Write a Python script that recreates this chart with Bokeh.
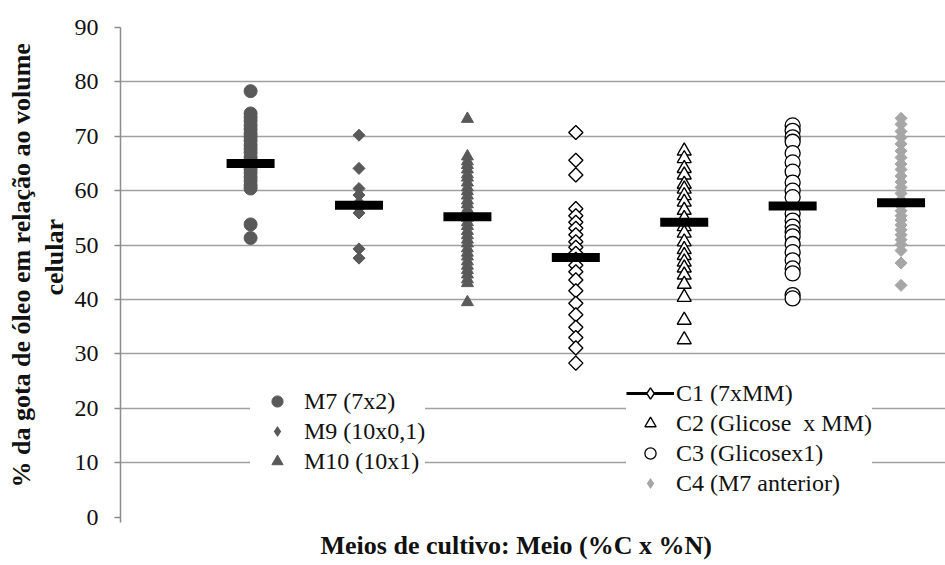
import math
from bokeh.plotting import figure
from bokeh.models import (Range1d, Legend, LegendItem, FixedTicker, Title,
                          ColumnDataSource)
from bokeh.embed import file_html
from bokeh.resources import INLINE

categories = ["M7 (7x2)", "M9 (10x0,1)", "M10 (10x1)", "C1 (7xMM)",
              "C2 (Glicose  x MM)", "C3 (Glicosex1)", "C4 (M7 anterior)"]

m7 = [78.3, 74.2, 73.5, 72.8, 72.0, 71.3, 70.5, 69.9, 69.2, 68.4, 67.7, 67.0,
      66.2, 65.6, 64.8, 64.0, 63.3, 62.5, 61.8, 61.0, 60.4, 53.8, 51.3]
m9 = [70.2, 64.1, 60.4, 59.2, 57.8, 56.8, 55.9, 49.3, 47.6]
m10 = [73.2, 66.3, 65.4, 64.7, 63.9, 63.0, 62.4, 61.5, 60.6, 59.9, 59.1, 58.2,
       57.5, 56.6, 55.9, 55.0, 54.2, 53.5, 52.6, 51.8, 51.0, 50.3, 49.4, 48.6,
       47.9, 47.0, 46.2, 45.4, 44.6, 43.7, 43.0, 39.5]
c1 = [70.7, 65.6, 62.9, 56.7, 55.4, 54.2, 53.1, 51.9, 50.6, 49.6, 48.5, 47.4,
      46.3, 45.1, 43.6, 41.6, 39.3, 37.2, 34.9, 33.0, 31.1, 28.3]
c2 = [67.3, 65.9, 64.1, 62.9, 61.2, 60.3, 59.1, 57.9, 56.4, 54.9, 53.4, 52.2,
      50.6, 49.2, 48.1, 46.9, 45.8, 44.5, 42.8, 40.4, 36.2, 32.6]
c3 = [72.0, 71.0, 69.8, 69.0, 66.9, 65.2, 63.5, 61.5, 60.0, 58.8, 55.8, 54.5,
      53.4, 52.4, 51.6, 50.2, 48.7, 47.2, 45.7, 44.8, 40.8, 40.2]
c4 = [73.3, 72.2, 70.9, 69.8, 68.6, 67.3, 66.1, 64.9, 63.9, 62.7, 61.6, 60.6,
      59.5, 58.3, 57.2, 56.3, 55.4, 54.6, 53.7, 52.8, 51.9, 51.0, 50.1, 49.0,
      46.7, 42.6]
means = [65.0, 57.3, 55.2, 47.7, 54.2, 57.2, 57.8]

y_ticks = [0, 10, 20, 30, 40, 50, 60, 70, 80, 90]
x_title = "Meios de cultivo: Meio (%C x %N)"
y_title_1 = "% da gota de óleo em relação ao volume"
y_title_2 = "celular"

DARK = "#595959"
LIGHT = "#a6a6a6"
SERIF = "Liberation Serif"
TXT = "#111111"

p = figure(width=945, height=565, output_backend="svg", toolbar_location=None,
           x_range=Range1d(-0.2, 7.41), y_range=Range1d(-1, 90),
           min_border_left=120, min_border_right=0, min_border_top=27,
           min_border_bottom=43)
p.outline_line_color = None
p.xgrid.visible = False
p.xaxis.visible = False
p.ygrid.ticker = FixedTicker(ticks=y_ticks[1:])
p.ygrid.grid_line_color = "#a0a0a0"
p.ygrid.grid_line_width = 1.5

p.yaxis.ticker = FixedTicker(ticks=y_ticks)
p.yaxis.axis_line_color = "#8c8c8c"
p.yaxis.axis_line_width = 1.5
p.yaxis.major_tick_line_color = "#8c8c8c"
p.yaxis.major_tick_line_width = 1.5
p.yaxis.major_tick_out = 6
p.yaxis.major_tick_in = 0
p.yaxis.minor_tick_line_color = None
p.yaxis.major_label_standoff = 16
p.yaxis.major_label_text_font = SERIF
p.yaxis.major_label_text_font_size = "24px"
p.yaxis.major_label_text_color = TXT

def title(text, align, offset, standoff=0):
    return Title(text=text, align=align, offset=offset, standoff=standoff,
                 text_font=SERIF, text_font_style="bold",
                 text_font_size="26px", text_color=TXT)

p.add_layout(title(x_title, "left", 200, 12), "below")
p.add_layout(title(y_title_2, "left", 227, 5), "left")
p.add_layout(title(y_title_1, "left", 35, 0), "left")

def col(i, vals):
    return ColumnDataSource(dict(x=[i + 1] * len(vals), y=vals))

s_m7, s_m9, s_m10 = col(0, m7), col(1, m9), col(2, m10)
s_c1, s_c2, s_c3, s_c4 = col(3, c1), col(4, c2), col(5, c3), col(6, c4)

# legend-only glyphs: tiny marks drawn first, hidden beneath the real ones
r_m9_leg = p.scatter("x", "y", source=s_m9, marker="diamond", size=0.1,
                     fill_color=DARK, line_color=None)
r_c1_line = p.segment(x0="x", y0="y", x1="x", y1="y", source=s_c1,
                      line_color="black", line_width=3)
r_c1_leg = p.scatter("x", "y", source=s_c1, marker="diamond", size=0.1,
                     fill_color="white", line_color="black", line_width=1.4)
r_c4_leg = p.scatter("x", "y", source=s_c4, marker="diamond", size=0.1,
                     fill_color=LIGHT, line_color=None)

r_m7 = p.scatter("x", "y", source=s_m7, marker="circle", size=13,
                 fill_color=DARK, line_color=DARK)
p.scatter("x", "y", source=s_m9, marker="square", angle=math.pi / 4, size=8.5,
          fill_color=DARK, line_color=DARK)
r_m10 = p.scatter("x", "y", source=s_m10, marker="triangle", size=12,
                  fill_color=DARK, line_color=DARK)
p.scatter("x", "y", source=s_c1, marker="square", angle=math.pi / 4, size=10,
          fill_color="white", line_color="black", line_width=1.4)
r_c2 = p.scatter("x", "y", source=s_c2, marker="triangle", size=14,
                 fill_color="white", line_color="black", line_width=1.4)
r_c3 = p.scatter("x", "y", source=s_c3, marker="circle", size=15,
                 fill_color="white", line_color="black", line_width=1.3)
p.scatter("x", "y", source=s_c4, marker="square", angle=math.pi / 4, size=8.5,
          fill_color=LIGHT, line_color=LIGHT)

p.rect(x=[i + 1 for i in range(len(means))], y=means, width=48, height=9,
       width_units="screen", height_units="screen",
       fill_color="black", line_color=None)

def make_legend(items, loc, gw, standoff):
    return Legend(items=items, location=loc, orientation="vertical",
                  glyph_width=gw, glyph_height=28, label_height=28, spacing=2,
                  padding=4, margin=0, label_standoff=standoff,
                  label_text_font=SERIF, label_text_font_size="24px",
                  label_text_color=TXT, background_fill_color="white",
                  background_fill_alpha=1.0, border_line_color=None)

leg1 = make_legend([
    LegendItem(label=categories[0], renderers=[r_m7]),
    LegendItem(label=categories[1], renderers=[r_m9_leg]),
    LegendItem(label=categories[2], renderers=[r_m10]),
], (130, 47), 54, 0)
leg2 = make_legend([
    LegendItem(label=categories[3], renderers=[r_c1_line, r_c1_leg]),
    LegendItem(label=categories[4], renderers=[r_c2]),
    LegendItem(label=categories[5], renderers=[r_c3]),
    LegendItem(label=categories[6], renderers=[r_c4_leg]),
], (506, 25), 48, 2)
p.add_layout(leg1, "center")
p.add_layout(leg2, "center")

open("out.html", "w").write(file_html(p, INLINE))
